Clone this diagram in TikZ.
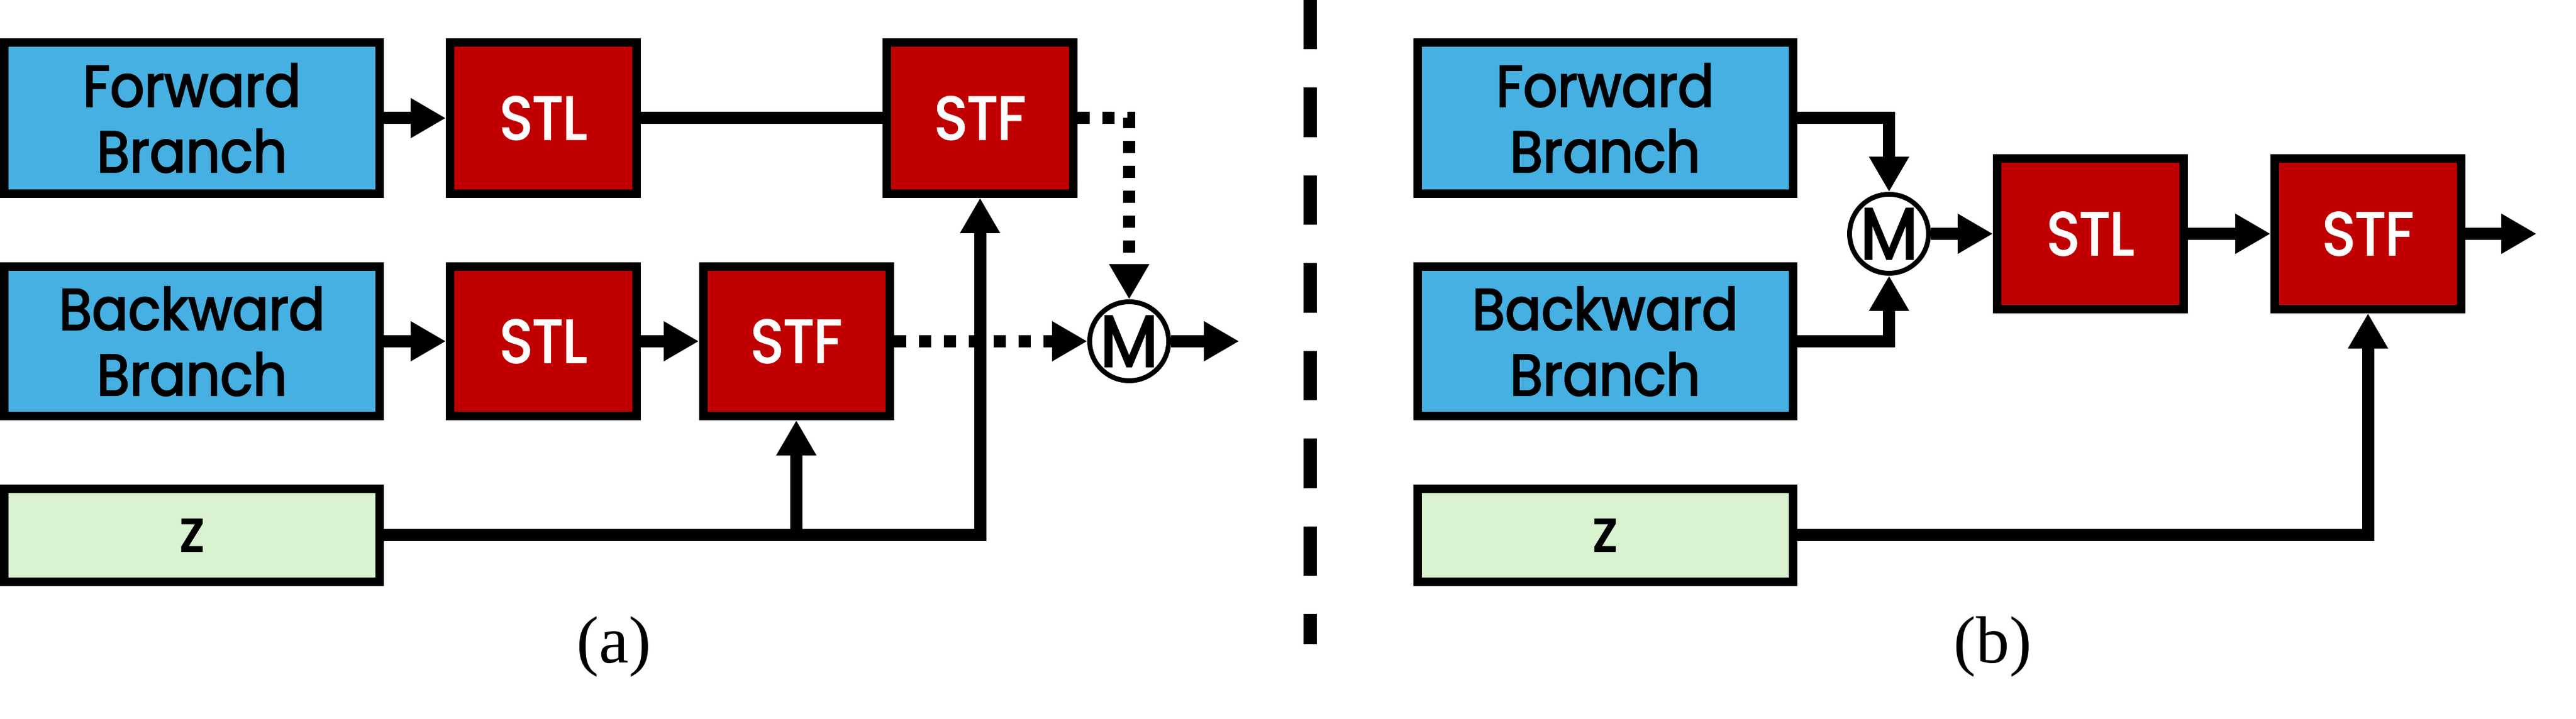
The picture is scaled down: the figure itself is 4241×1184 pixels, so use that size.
\documentclass[tikz,border=0pt]{standalone}
\usepackage{fontspec}
\setmainfont{Liberation Serif}
\newfontfamily\cf[FakeBold=2.5,FakeStretch=0.92]{Poppins}
\usetikzlibrary{arrows.meta}
\definecolor{bbl}{RGB}{69,176,225}
\definecolor{rrd}{RGB}{192,0,0}
\definecolor{zgr}{RGB}{217,242,208}
\begin{document}
\begin{tikzpicture}[x=0.1pt,y=-0.1pt,line join=miter]
\useasboundingbox (0,0) rectangle (4241,1184);
\tikzset{
  blk/.style={draw=black,line width=1.4pt,inner sep=0pt,align=center,
    font=\cf\fontsize{9.6}{10.8}\selectfont},
  bluebox/.style={blk,fill=bbl,minimum width=61.8pt},
  redbox/.style={blk,fill=rrd,text=white,minimum width=30.7pt,font=\cf\fontsize{10}{10.8}\selectfont},
  zbox/.style={blk,fill=zgr,minimum width=61.8pt,minimum height=15.3pt},
  mnode/.style={circle,draw=black,fill=white,line width=0.8pt,minimum size=13pt,inner sep=0pt,
    font=\cf\fontsize{12}{12}\selectfont},
  tip/.tip={Triangle[length=5.8pt,width=6.2pt]},
  arr/.style={line width=2pt,-tip},
  ln/.style={line width=2pt},
  dotl/.style={line width=2pt,dash pattern=on 2pt off 2.1pt},
  lbl/.style={font=\fontsize{11}{12}\selectfont}
}
% ---------- panel (a)
\node[bluebox,minimum height=24.9pt] (fa) at (316,194.5) {Forward\\Branch};
\node[redbox,minimum height=24.9pt] (sla) at (894.5,194.5) {STL};
\node[redbox,minimum height=24.9pt] (sfa) at (1613.5,194.5) {STF};
\node[bluebox,minimum height=24.6pt] (ba) at (316,562) {Backward\\Branch};
\node[redbox,minimum height=24.6pt] (slb) at (894.5,562) {STL};
\node[redbox,minimum height=24.6pt] (sfb) at (1311,562) {STF};
\node[zbox] (za) at (316,881.5) {z};
\node[mnode] (ma) at (1859,562) {M};
\coordinate (outa) at (2040,562);
\coordinate (zj) at (sfb.south |- za.east);

\draw[arr] (fa) -- (sla);
\draw[ln] (sla) -- (sfa);
\draw[arr] (ba) -- (slb);
\draw[arr] (slb) -- (sfb);
\draw[arr] (za.east) -| (sfa.south);
\draw[arr] (zj) -- (sfb.south);
\draw[dotl,-tip] (sfa.east) -| (ma.north);
\draw[dotl,-tip] (sfb.east) -- (ma.west);
\draw[arr] (ma.east) -- (outa);
\node[lbl] (la) at (1011,1065) {(a)};

% ---------- divider
\coordinate (d1) at (2157,0);
\coordinate (d2) at (2157,1061);
\draw[line width=2.2pt,dash pattern=on 8.15pt off 6.3pt] (d1) -- (d2);

% ---------- panel (b)
\node[bluebox,minimum height=24.9pt] (fb) at (2642.5,194.5) {Forward\\Branch};
\node[bluebox,minimum height=24.6pt] (bb) at (2642.5,562) {Backward\\Branch};
\node[zbox] (zb) at (2642.5,881.5) {z};
\node[mnode] (mb) at (3110,385) {M};
\node[redbox,minimum height=24.8pt] (slc) at (3441.5,385) {STL};
\node[redbox,minimum height=24.8pt] (sfc) at (3898.5,385) {STF};
\coordinate (outb) at (4176,385);

\draw[arr] (fb.east) -| (mb.north);
\draw[arr] (bb.east) -| (mb.south);
\draw[arr] (mb.east) -- (slc.west);
\draw[arr] (slc) -- (sfc);
\draw[arr] (sfc.east) -- (outb);
\draw[arr] (zb.east) -| (sfc.south);
\node[lbl] (lb) at (3281,1065) {(b)};
\end{tikzpicture}
\end{document}
